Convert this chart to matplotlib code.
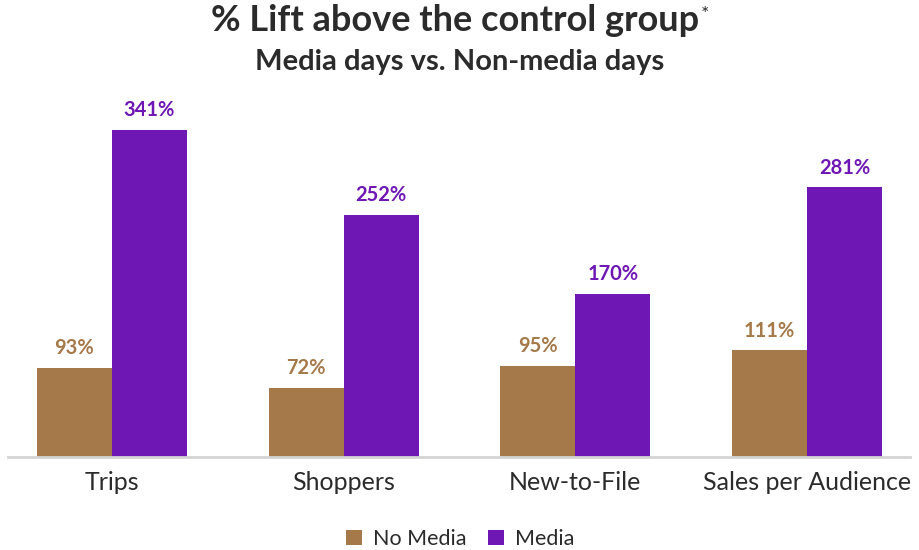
import matplotlib.pyplot as plt
import numpy as np

categories = ["Trips", "Shoppers", "New-to-File", "Sales per Audience"]
no_media = [93, 72, 95, 111]
media = [341, 252, 170, 281]
series_names = ["No Media", "Media"]

BROWN = "#A6794A"
PURPLE = "#6F17B5"
DARK = "#2b2b2b"

plt.rcParams['font.family'] = ['Lato', 'DejaVu Sans']

fig = plt.figure(figsize=(9.2, 5.5), dpi=100)
ax = fig.add_axes([8 / 920, 1 - 457 / 550, 902 / 920, 357 / 550])

x = np.arange(len(categories))
w = 0.324
b1 = ax.bar(x - w / 2, no_media, w, color=BROWN, label=series_names[0])
b2 = ax.bar(x + w / 2, media, w, color=PURPLE, label=series_names[1])

for bars, vals, col in [(b1, no_media, BROWN), (b2, media, PURPLE)]:
    for r, v in zip(bars, vals):
        ax.annotate(f"{v}%", (r.get_x() + r.get_width() / 2, v),
                    xytext=(0, 7), textcoords="offset points",
                    ha="center", va="bottom", fontsize=14.5, fontweight="bold", color=col)

ax.set_xlim(-0.449, 3.445)
ax.set_ylim(0, 372)
ax.set_xticks(x)
ax.set_xticklabels(categories, fontsize=18, color=DARK)
ax.tick_params(axis="x", length=0, pad=10)
ax.set_yticks([])
for s in ["top", "right", "left"]:
    ax.spines[s].set_visible(False)
ax.spines["bottom"].set_color("#d4d4d4")
ax.spines["bottom"].set_linewidth(2)

# title with superscript asterisk
t = fig.text(0.495, 1 - 31 / 550, "% Lift above the control group", ha="center",
             va="baseline", fontsize=26, fontweight="bold", color=DARK)
fig.canvas.draw()
bb = t.get_window_extent()
fig.text(bb.x1 / 920 + 0.001, 1 - 20 / 550, "*", ha="left", va="baseline",
         fontsize=14, color=DARK)
fig.text(0.5, 1 - 70 / 550, "Media days vs. Non-media days", ha="center",
         va="baseline", fontsize=21, fontweight="bold", color=DARK)

leg = fig.legend(handles=[b1, b2], labels=series_names, loc="center",
                 bbox_to_anchor=(0.5, 1 - 539 / 550), ncol=2, frameon=False,
                 fontsize=15.5, handlelength=0.75, handleheight=0.75,
                 handletextpad=0.5, columnspacing=1.0)
for txt in leg.get_texts():
    txt.set_color(DARK)

fig.savefig("out.png", dpi=100)
